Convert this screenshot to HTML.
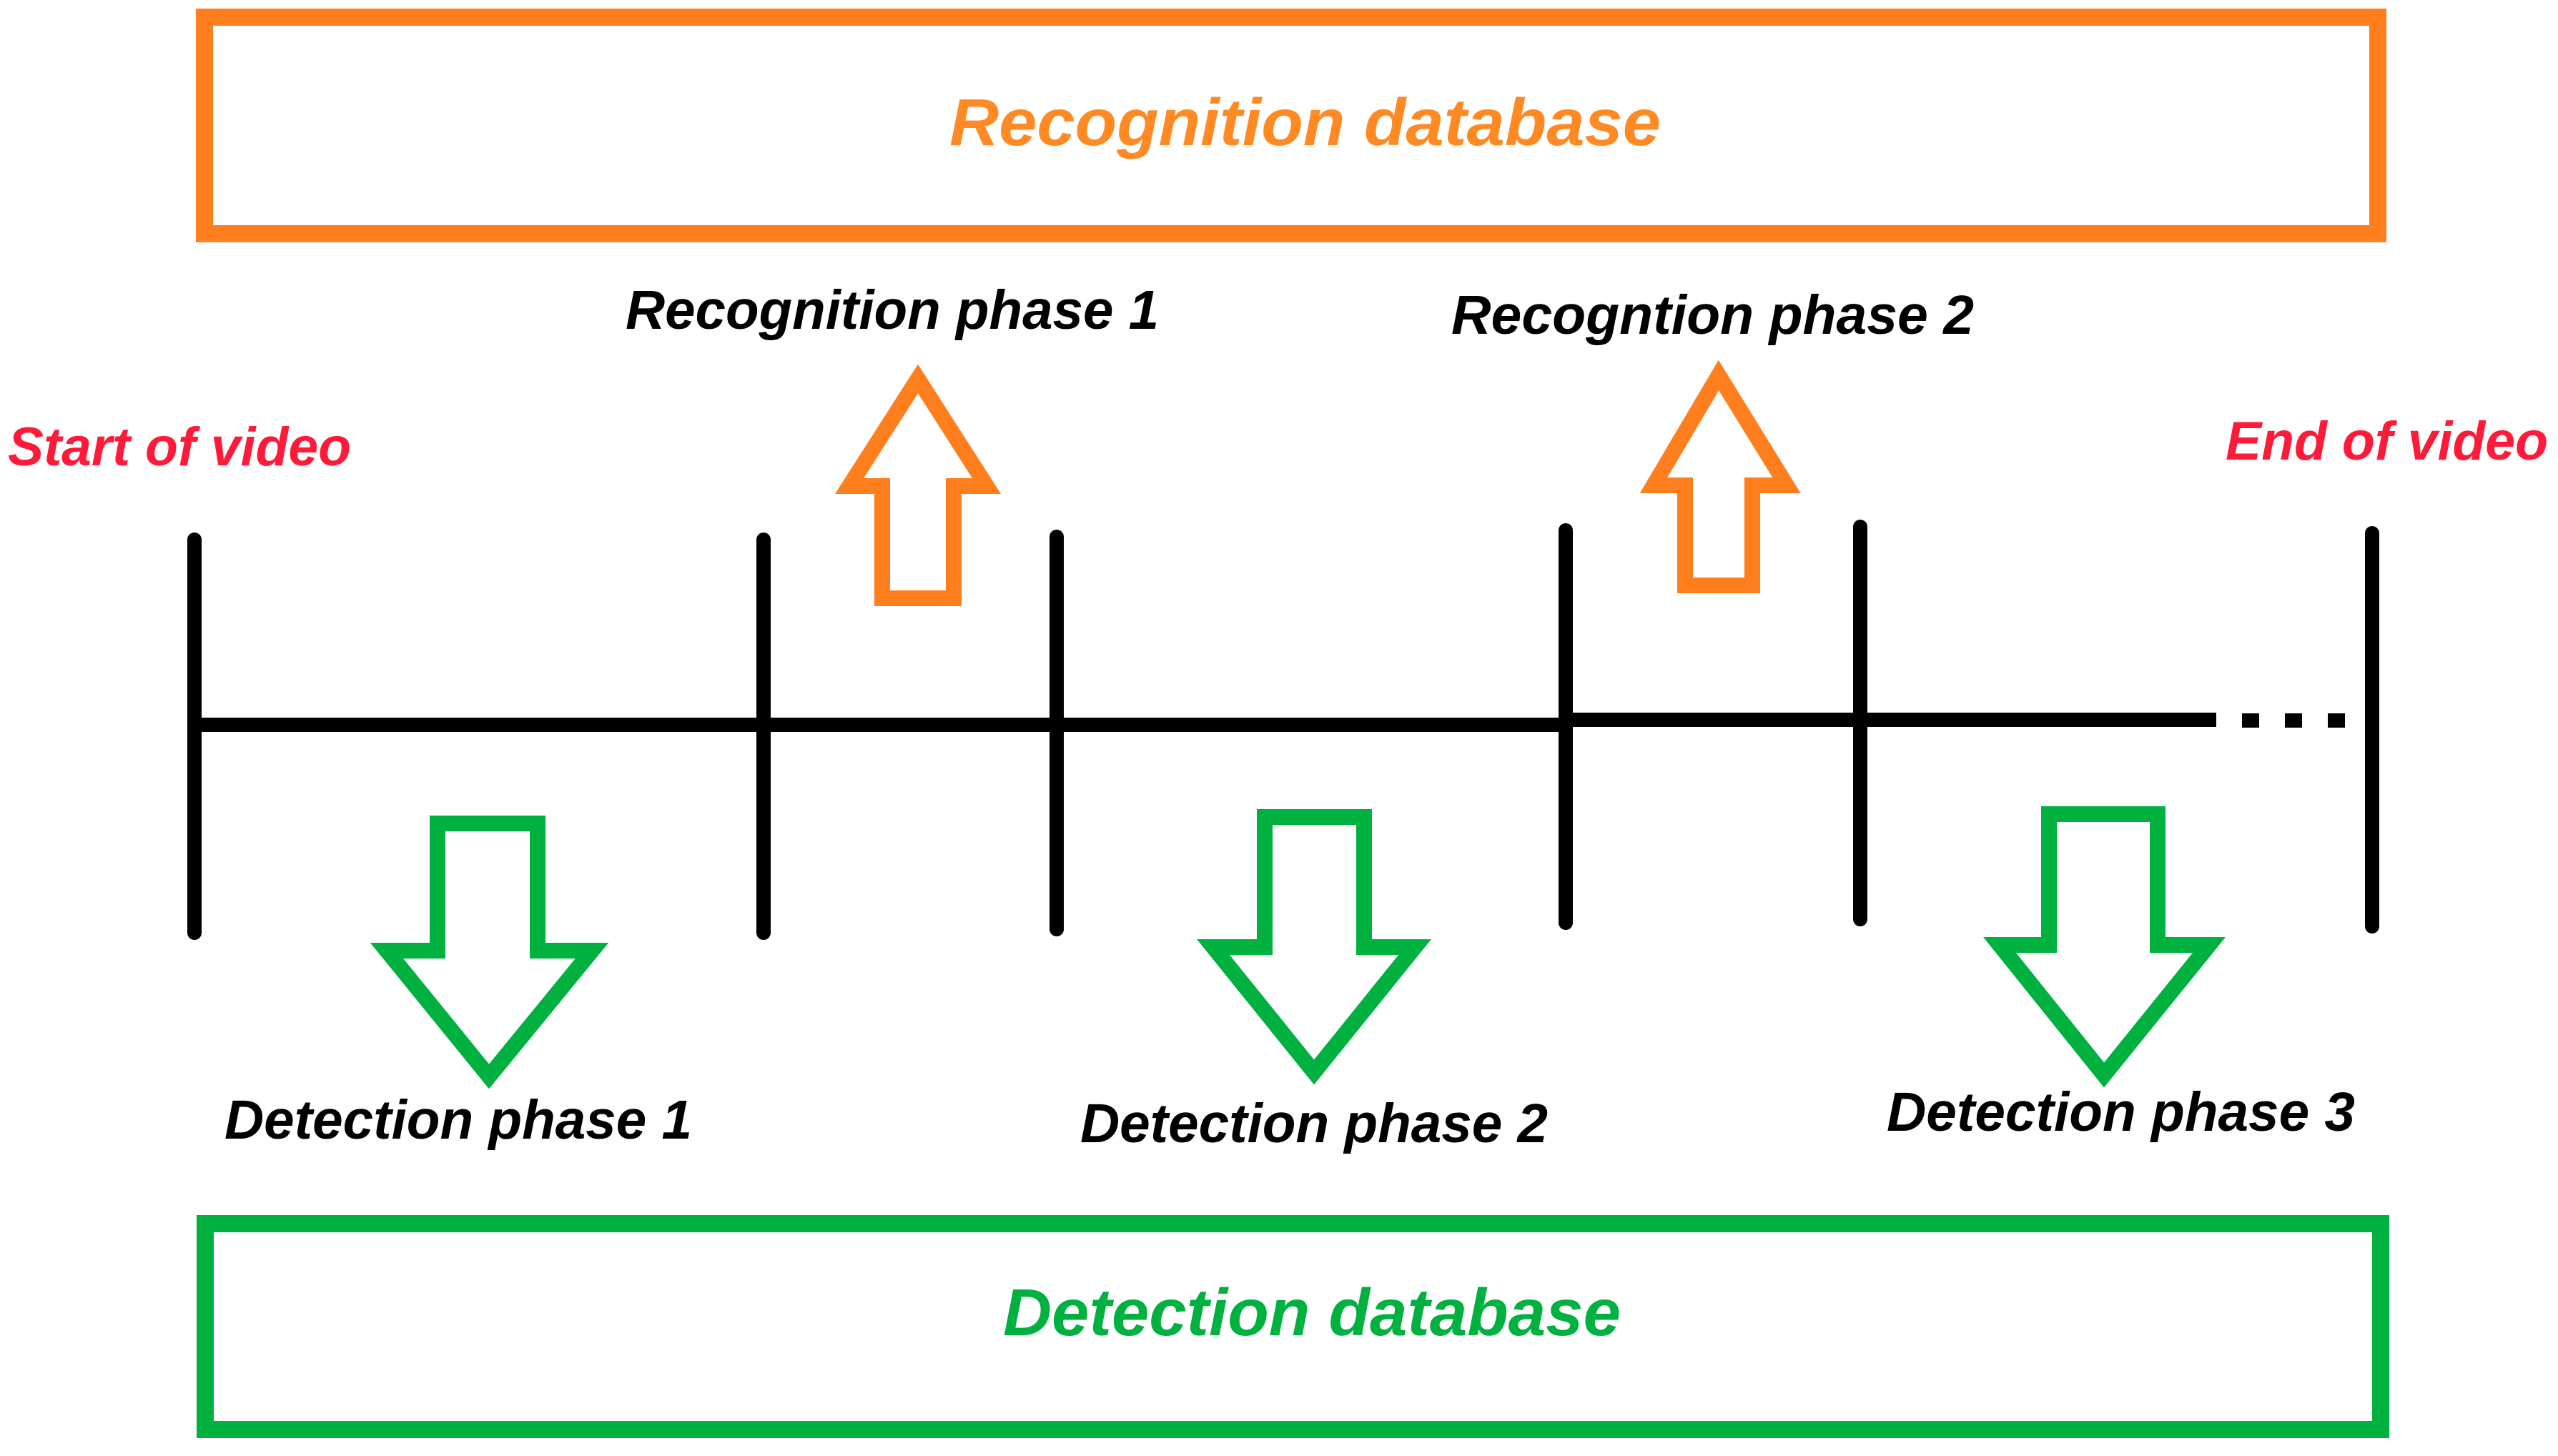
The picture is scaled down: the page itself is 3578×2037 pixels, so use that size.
<!DOCTYPE html>
<html><head><meta charset="utf-8"><style>
html,body{margin:0;padding:0;background:#fff;}
svg{display:block;}
text{font-family:"Liberation Sans",sans-serif;font-weight:bold;font-style:italic;}
</style></head><body>
<svg width="3578" height="2037" viewBox="0 0 3578 2037" xmlns="http://www.w3.org/2000/svg">
<rect x="286" y="24" width="3040" height="303" fill="none" stroke="#ff7f1f" stroke-width="24"/>
<text x="1328" y="203" font-size="93" fill="#ff8a24" textLength="995" lengthAdjust="spacingAndGlyphs">Recognition database</text>
<rect x="287" y="1712" width="3043" height="288" fill="none" stroke="#00b140" stroke-width="24"/>
<text x="1403" y="1868" font-size="93" fill="#00b140" textLength="864" lengthAdjust="spacingAndGlyphs">Detection database</text>

<text x="11" y="651" font-size="76" fill="#ff1a3a" textLength="480" lengthAdjust="spacingAndGlyphs">Start of video</text>
<text x="3113" y="643" font-size="76" fill="#ff1a3a" textLength="451" lengthAdjust="spacingAndGlyphs">End of video</text>
<text x="875" y="460" font-size="77" fill="#000" textLength="746" lengthAdjust="spacingAndGlyphs">Recognition phase 1</text>
<text x="2030" y="467" font-size="77" fill="#000" textLength="731" lengthAdjust="spacingAndGlyphs">Recogntion phase 2</text>
<text x="314" y="1593" font-size="77" fill="#000" textLength="654" lengthAdjust="spacingAndGlyphs">Detection phase 1</text>
<text x="1511" y="1598" font-size="77" fill="#000" textLength="654" lengthAdjust="spacingAndGlyphs">Detection phase 2</text>
<text x="2639" y="1582" font-size="77" fill="#000" textLength="655" lengthAdjust="spacingAndGlyphs">Detection phase 3</text>

<g stroke="#000" stroke-width="20" stroke-linecap="round">
<line x1="272" y1="1014" x2="2190" y2="1014"/>
<line x1="2190" y1="1007" x2="3100" y2="1007" stroke-linecap="butt"/>
<line x1="272" y1="755" x2="272" y2="1305"/>
<line x1="1068" y1="755" x2="1068" y2="1305"/>
<line x1="1478" y1="751" x2="1478" y2="1300"/>
<line x1="2190" y1="742" x2="2190" y2="1291"/>
<line x1="2602" y1="737" x2="2602" y2="1286"/>
<line x1="3318" y1="746" x2="3318" y2="1296"/>
</g>
<g fill="#000">
<rect x="3136" y="998" width="24" height="20"/>
<rect x="3196" y="998" width="24" height="20"/>
<rect x="3256" y="998" width="24" height="20"/>
</g>

<g fill="none" stroke="#ff7f1f" stroke-width="22" stroke-linejoin="miter">
<polygon points="1284,530 1380,680 1334,680 1334,837 1234,837 1234,680 1188,680"/>
<polygon points="2404,525 2499,679 2451,679 2451,819 2357,819 2357,679 2313,679"/>
</g>
<g fill="none" stroke="#00b140" stroke-width="22" stroke-linejoin="miter">
<polygon points="612,1152 752,1152 752,1330 828,1330 684,1506 541,1330 612,1330"/>
<polygon points="1769,1143 1908,1143 1908,1325 1979,1325 1838,1500 1697,1325 1769,1325"/>
<polygon points="2866,1139 3018,1139 3018,1322 3090,1322 2943,1504 2797,1322 2866,1322"/>
</g>
</svg>
</body></html>
